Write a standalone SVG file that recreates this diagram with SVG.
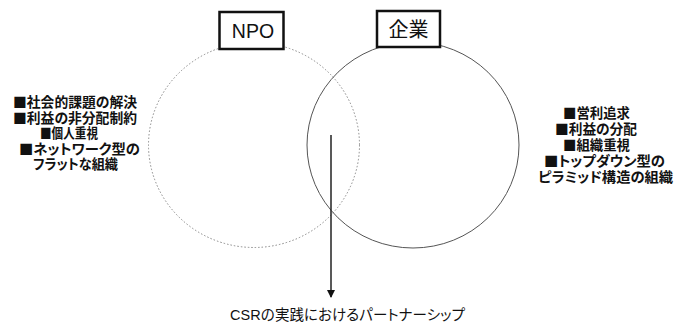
<svg xmlns="http://www.w3.org/2000/svg" width="686" height="327" viewBox="0 0 686 327">
<style>
.list{font-family:"Noto Sans CJK JP","Liberation Sans",sans-serif;font-size:14px;font-weight:700;fill:#111;font-feature-settings:"palt" 1}
.box{fill:#fff;stroke:#111;stroke-width:2.5}
.title{font-family:"Liberation Sans","Noto Sans CJK JP",sans-serif;fill:#111;text-anchor:middle}
.note{font-family:"Liberation Sans","Noto Sans CJK JP",sans-serif;font-size:14.5px;fill:#111;font-feature-settings:"palt" 1}
</style>
<defs>
<marker id="ah" markerWidth="8" markerHeight="8" refX="7" refY="4" orient="auto" markerUnits="userSpaceOnUse">
<path d="M0,0 L8,4 L0,8 Z" fill="#111"/>
</marker>
</defs>
<rect width="686" height="327" fill="#fff"/>
<g id="npo-circle">
<ellipse cx="254" cy="145" rx="105.5" ry="102.5" fill="none" stroke="#888" stroke-width="1" stroke-dasharray="1.5 2"/>
</g>
<g id="company-circle">
<ellipse cx="413" cy="145" rx="106" ry="103" fill="none" stroke="#555" stroke-width="1"/>
</g>
<g id="connectors">
<line x1="331" y1="135" x2="331" y2="297" stroke="#222" stroke-width="1.5" marker-end="url(#ah)"/>
</g>
<g id="npo">
<rect class="box" x="219.5" y="12" width="64" height="37"/>
<text class="title" x="253" y="37.5" font-size="19.5">NPO</text>
</g>
<g id="company">
<rect class="box" x="377" y="11" width="63" height="36"/>
<text class="title" x="408.5" y="37" font-size="20">企業</text>
</g>
<g id="npo-features">
<text class="list"><tspan x="13" y="107" textLength="124" lengthAdjust="spacingAndGlyphs">■社会的課題の解決</tspan><tspan x="13" y="122.5" textLength="124" lengthAdjust="spacingAndGlyphs">■利益の非分配制約</tspan><tspan x="40" y="138" textLength="58" lengthAdjust="spacingAndGlyphs">■個人重視</tspan><tspan x="19" y="153.5" textLength="121" lengthAdjust="spacingAndGlyphs">■ネットワーク型の</tspan><tspan x="33" y="169" textLength="85" lengthAdjust="spacingAndGlyphs">フラットな組織</tspan></text>
</g>
<g id="company-features">
<text class="list"><tspan x="563" y="118" textLength="67" lengthAdjust="spacingAndGlyphs">■営利追求</tspan><tspan x="555" y="134" textLength="82" lengthAdjust="spacingAndGlyphs">■利益の分配</tspan><tspan x="563" y="149.5" textLength="67" lengthAdjust="spacingAndGlyphs">■組織重視</tspan><tspan x="544" y="166" textLength="121" lengthAdjust="spacingAndGlyphs">■トップダウン型の</tspan><tspan x="538" y="182" textLength="135" lengthAdjust="spacingAndGlyphs">ピラミッド構造の組織</tspan></text>
</g>
<g id="partnership">
<text class="note" x="230" y="320" textLength="235">CSRの実践におけるパートナーシップ</text>
</g>
</svg>
